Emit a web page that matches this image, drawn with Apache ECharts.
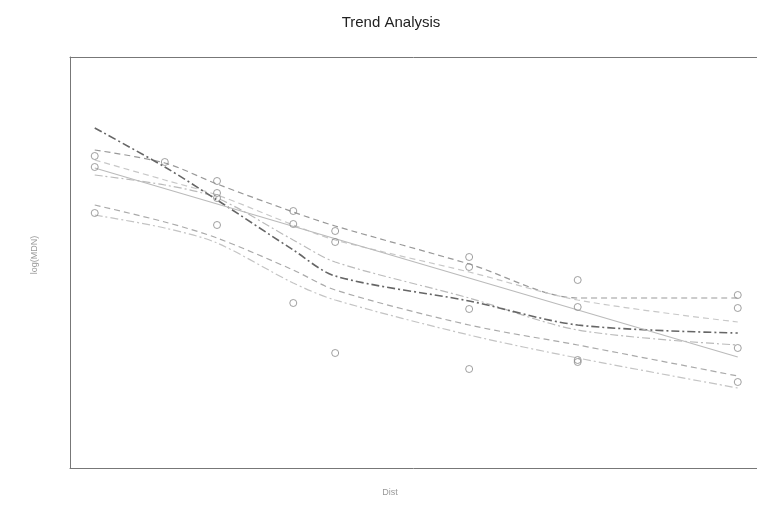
<!DOCTYPE html>
<html>
<head>
<meta charset="utf-8">
<script src="https://cdn.jsdelivr.net/npm/echarts@6/dist/echarts.min.js"></script>
<style>html,body{margin:0;padding:0;background:#fff}#c{width:757px;height:532px}</style>
</head>
<body>
<div id="c"></div>
<script>
// distance positions (x)
var distX = [3.6, 13.8, 21.4, 32.5, 38.6, 58.1, 73.9, 97.2];
// observed points
var obsX = [3.6, 3.6, 3.6, 13.8, 21.4, 21.4, 21.4, 21.4, 32.5, 32.5, 32.5, 38.6, 38.6, 38.6, 58.1, 58.1, 58.1, 58.1, 73.9, 73.9, 73.9, 73.9, 97.2, 97.2, 97.2, 97.2];
var obsY = [3.12, 3.01, 2.55, 3.06, 2.87, 2.75, 2.70, 2.43, 2.57, 2.44, 1.65, 2.37, 2.26, 1.15, 2.11, 2.01, 1.59, 0.99, 1.88, 1.61, 1.08, 1.06, 1.73, 1.60, 1.20, 0.86];
// trend lines (values at distX)
var trendDark   = [3.40, 3.01, 2.68, 2.18, 1.92, 1.67, 1.43, 1.35];
var trendTop    = [3.18, 3.05, 2.84, 2.56, 2.42, 2.04, 1.70, 1.70];
var trendMid2   = [3.08, 2.88, 2.73, 2.43, 2.28, 1.96, 1.68, 1.46];
var trendMid3   = [2.93, 2.83, 2.70, 2.28, 2.06, 1.70, 1.38, 1.23];
var trendLow    = [2.63, 2.46, 2.30, 1.98, 1.78, 1.43, 1.23, 0.92];
var trendLowest = [2.53, 2.40, 2.25, 1.85, 1.68, 1.33, 1.10, 0.80];
// overall linear fit endpoints
var fitX = [3.6, 97.2];
var fitY = [3.00, 1.11];
// texts
var titleText = 'Trend Analysis';
var xName = 'Dist';
var yName = 'log(MDN)';

function pairs(xs, ys){ return xs.map(function(x,i){ return [x, ys[i]]; }); }

function lineSeries(ys, color, width, type, smooth){
  return {
    type:'line', data: pairs(distX, ys), showSymbol:false, smooth: smooth,
    lineStyle:{color:color, width:width, type:type}, z:2, silent:true
  };
}

var font = 'Liberation Sans, Arial, sans-serif';
var frame = {show:true, lineStyle:{color:'#777', width:1}};
var hidden = { axisTick:{show:false}, axisLabel:{show:false}, splitLine:{show:false} };
var chart = echarts.init(document.getElementById('c'));
chart.setOption({
  animation:false,
  backgroundColor:'#fff',
  graphic:[
    { type:'text', x:391, y:23, style:{ text:titleText, font:'15px '+font, fill:'#222', textAlign:'center', textVerticalAlign:'middle' } },
    { type:'text', x:390, y:493, style:{ text:xName, font:'9px '+font, fill:'#999', textAlign:'center', textVerticalAlign:'middle' } },
    { type:'text', x:35, y:255, rotation:Math.PI/2, style:{ text:yName, font:'9px '+font, fill:'#999', textAlign:'center', textVerticalAlign:'middle' } }
  ],
  grid:{ left:70, top:57, right:-3, bottom:64, show:false },
  xAxis:[
    Object.assign({ type:'value', min:0, max:100, position:'bottom', axisLine:frame }, hidden),
    Object.assign({ type:'value', min:0, max:100, position:'top', axisLine:frame }, hidden)
  ],
  yAxis:Object.assign({ type:'value', min:0, max:4.11, position:'left', axisLine:frame }, hidden),
  series:[
    lineSeries(trendTop, '#999', 1.2, [6,4], 0.3),
    lineSeries(trendMid2, '#c8c8c8', 1.2, [6,4], 0.3),
    lineSeries(trendMid3, '#bbb', 1.2, [8,3,2,3], 0.3),
    lineSeries(trendLow, '#aaa', 1.2, [6,4], 0.3),
    lineSeries(trendLowest, '#c4c4c4', 1.2, [8,3,2,3], 0.3),
    lineSeries(trendDark, '#666', 1.6, [8,3,2,3], 0.3),
    { type:'line', data: pairs(fitX, fitY), showSymbol:false, lineStyle:{color:'#bbb', width:1.2, type:'solid'}, z:2, silent:true },
    { type:'scatter', data: pairs(obsX, obsY), symbol:'circle', symbolSize:7,
      itemStyle:{ color:'rgba(0,0,0,0)', borderColor:'#888', borderWidth:1 }, z:3, silent:true }
  ]
});
</script>
</body>
</html>
